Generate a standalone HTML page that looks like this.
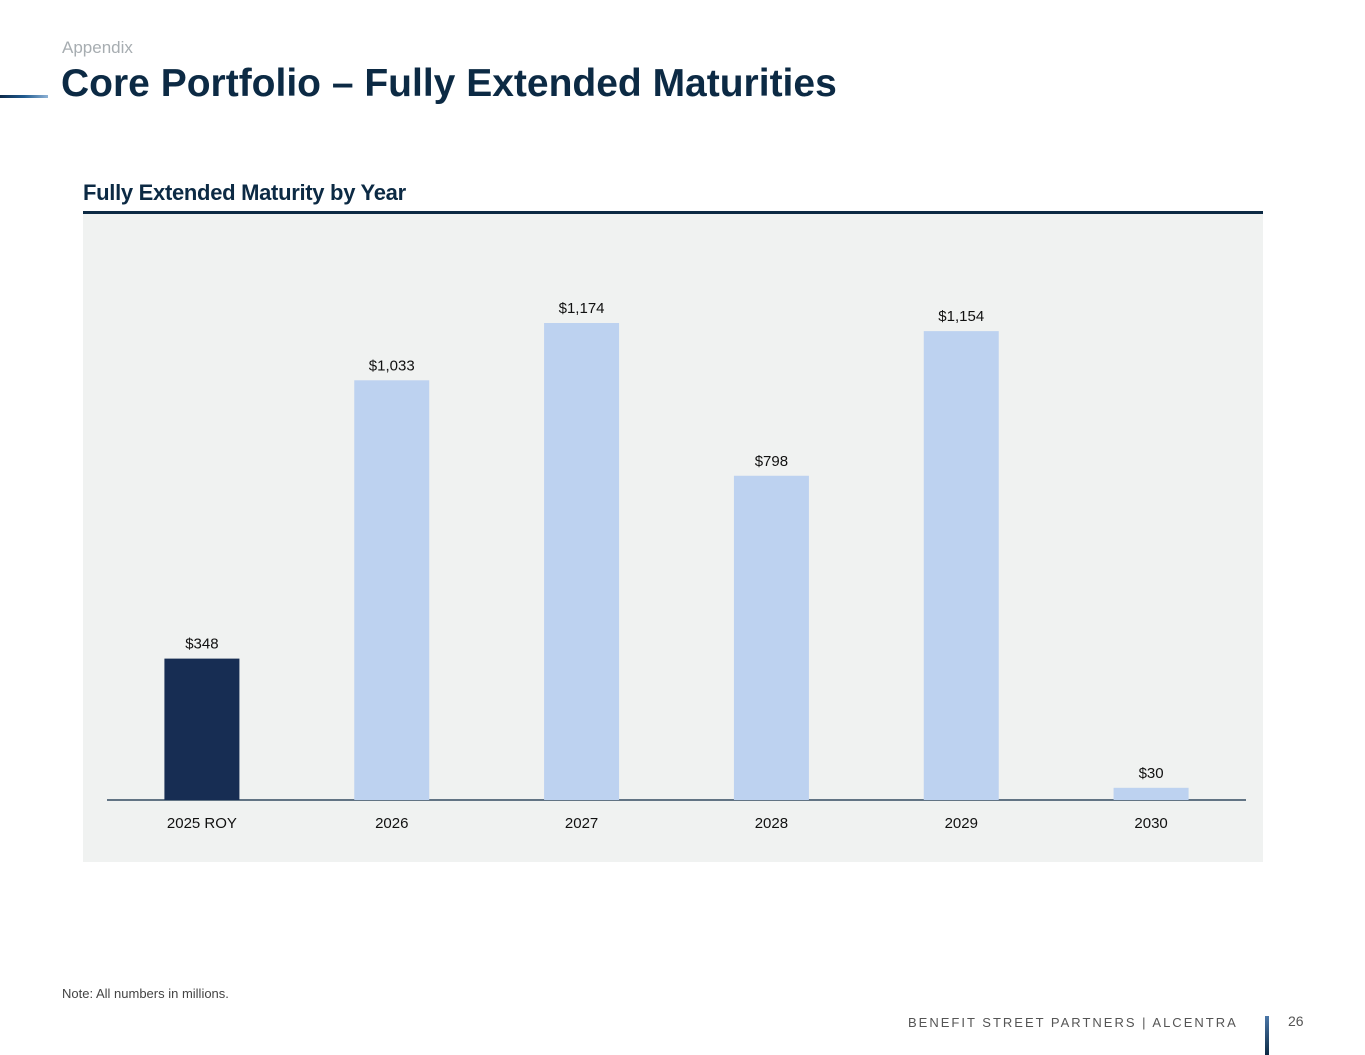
<!DOCTYPE html>
<html><head><meta charset="utf-8"><style>
body{margin:0;width:1365px;height:1055px;background:#fff;position:relative;overflow:hidden;font-family:"Liberation Sans",sans-serif}
.abs{position:absolute}
</style></head><body>
<div class="abs" style="left:62px;top:38px;font-size:17px;color:#a7adb1">Appendix</div>
<div class="abs" style="left:0;top:95px;width:48px;height:3px;background:linear-gradient(90deg,#0d2a4a,#1f5a8f,#8fb3d6)"></div>
<div class="abs" style="left:61px;top:62px;font-size:39px;font-weight:bold;color:#0c2a44">Core Portfolio – Fully Extended Maturities</div>
<div class="abs" style="left:83px;top:180px;font-size:22px;font-weight:bold;color:#0c2a44;letter-spacing:-0.3px">Fully Extended Maturity by Year</div>
<div class="abs" style="left:83px;top:211px;width:1180px;height:3px;background:#0c2a44"></div>
<svg class="abs" style="left:0;top:0" width="1365" height="1055" id="chart">
<rect x="83" y="214" width="1180" height="648" fill="#f0f2f1"/>
<line x1="107" y1="800" x2="1246" y2="800" stroke="#0c2a44" stroke-width="1.3"/>
</svg>
<div class="abs" style="left:62px;top:986px;font-size:13px;color:#444">Note: All numbers in millions.</div>
<div class="abs" style="left:908px;top:1015px;font-size:13px;letter-spacing:2.0px;color:#555;white-space:nowrap">BENEFIT STREET PARTNERS | ALCENTRA</div>
<div class="abs" style="left:1265px;top:1016px;width:4px;height:39px;background:linear-gradient(180deg,#4b77a8,#0c2a44)"></div>
<div class="abs" style="left:1288px;top:1013px;font-size:14px;color:#555">26</div>
<script>
const categories=["2025 ROY","2026","2027","2028","2029","2030"];
const values=[348,1033,1174,798,1154,30];
const labels=["$348","$1,033","$1,174","$798","$1,154","$30"];
const svg=document.getElementById('chart');
const NS='http://www.w3.org/2000/svg';
const x0=107,x1=1246,baseY=800,scale=477/1174;
const band=(x1-x0)/categories.length;
function xc(i){return x0+band*(i+0.5);}
function y(v){return baseY-v*scale;}
categories.forEach((c,i)=>{
  const r=document.createElementNS(NS,'rect');
  r.setAttribute('x',xc(i)-37.5);r.setAttribute('y',y(values[i]));
  r.setAttribute('width',75);r.setAttribute('height',baseY-y(values[i]));
  r.setAttribute('fill',i===0?'#172d53':'#bdd2f0');
  
  
  svg.appendChild(r);
  const t=document.createElementNS(NS,'text');
  t.setAttribute('x',xc(i));t.setAttribute('y',y(values[i])-10);
  t.setAttribute('text-anchor','middle');t.setAttribute('font-size','15');t.setAttribute('fill','#111');
  t.textContent=labels[i];
  
  
  svg.appendChild(t);
  const l=document.createElementNS(NS,'text');
  l.setAttribute('x',xc(i));l.setAttribute('y',828);
  l.setAttribute('text-anchor','middle');l.setAttribute('font-size','15');l.setAttribute('fill','#111');
  l.textContent=c;
  
  
  svg.appendChild(l);
});
</script>
</body></html>
